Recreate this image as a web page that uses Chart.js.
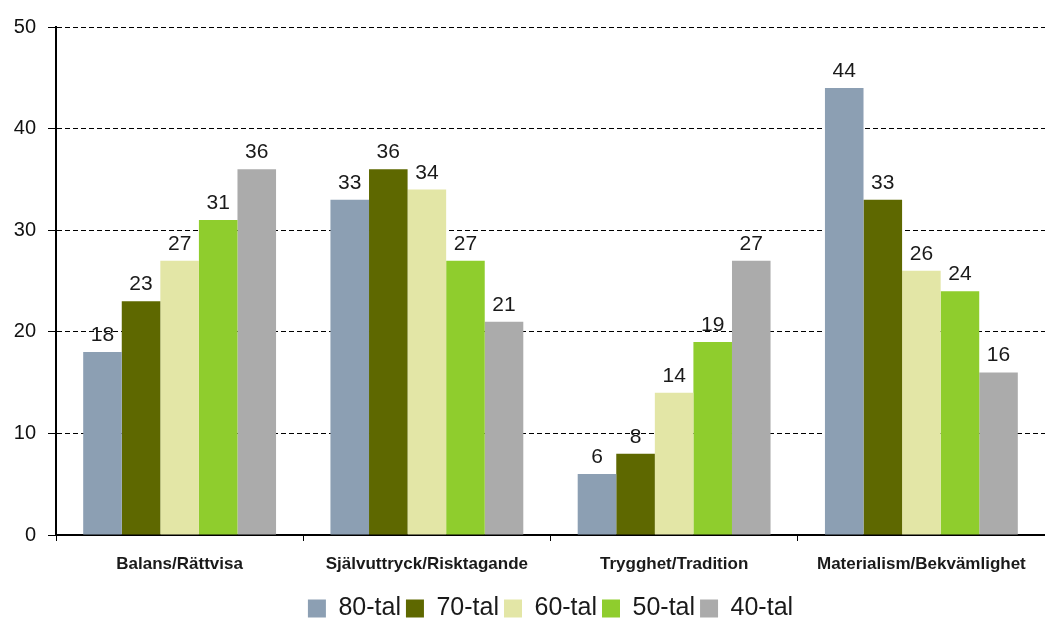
<!DOCTYPE html>
<html>
<head>
<meta charset="utf-8">
<script src="https://cdn.jsdelivr.net/npm/chart.js@4/dist/chart.umd.min.js"></script>
<style>
  html, body { margin: 0; padding: 0; background: #fff; }
  #wrap { width: 1045px; height: 622px; }
</style>
</head>
<body>
<div id="wrap"><canvas id="chart"></canvas></div>
<script>
const categories = ['Balans/Rättvisa', 'Självuttryck/Risktagande', 'Trygghet/Tradition', 'Materialism/Bekvämlighet'];
const seriesNames = ['80-tal', '70-tal', '60-tal', '50-tal', '40-tal'];
const tal80 = [18, 33, 6, 44];
const tal70 = [23, 36, 8, 33];
const tal60 = [27, 34, 14, 26];
const tal50 = [31, 27, 19, 24];
const tal40 = [36, 21, 27, 16];
const yTicks = [0, 10, 20, 30, 40, 50];

const colors = ['#8c9fb3', '#5e6800', '#e3e6a6', '#8fcd2d', '#ababab'];
const values = [tal80, tal70, tal60, tal50, tal40];
const FONT = '"Liberation Sans", Arial, sans-serif';

// etiquetas encima de cada barra
const valueLabels = {
    id: 'valueLabels',
    afterDatasetsDraw(chart) {
        const ctx = chart.ctx;
        ctx.save();
        ctx.font = '21px ' + FONT;
        ctx.fillStyle = '#1a1a1a';
        ctx.textAlign = 'center';
        ctx.textBaseline = 'alphabetic';
        chart.data.datasets.forEach((ds, i) => {
            chart.getDatasetMeta(i).data.forEach((bar, j) => {
                ctx.fillText(ds.data[j], bar.x, bar.y - 11);
            });
        });
        ctx.restore();
    }
};

new Chart(document.getElementById('chart'), {
    type: 'bar',
    data: {
        labels: categories,
        datasets: seriesNames.map((name, i) => ({
            label: name,
            data: values[i],
            backgroundColor: colors[i],
            borderWidth: 0,
            categoryPercentage: 0.78,
            barPercentage: 1.0
        }))
    },
    plugins: [valueLabels],
    options: {
        responsive: true,
        maintainAspectRatio: false,
        animation: false,
        layout: { padding: { top: 27, right: 0, left: 0, bottom: -9 } },
        plugins: {
            legend: {
                position: 'bottom',
                fullSize: false,
                labels: {
                    font: { size: 25, family: FONT },
                    color: '#1a1a1a',
                    boxWidth: 18,
                    boxHeight: 18,
                    padding: 5
                }
            },
            tooltip: { enabled: false }
        },
        scales: {
            x: {
                grid: {
                    drawOnChartArea: false,
                    drawTicks: true,
                    tickLength: 6,
                    color: '#000'
                },
                border: { color: '#000', width: 2 },
                ticks: {
                    color: '#1a1a1a',
                    font: { size: 17, weight: 'bold', family: FONT },
                    padding: 13,
                    maxRotation: 0
                },
                afterFit: s => { s.height = 56; }
            },
            y: {
                min: 0,
                max: 50,
                afterBuildTicks: s => { s.ticks = yTicks.map(v => ({ value: v })); },
                grid: {
                    color: ctx => ctx.tick && ctx.tick.value === 0 ? 'rgba(0,0,0,0)' : '#000',
                    lineWidth: 1,
                    tickBorderDash: [],
                    tickColor: '#000',
                    tickLength: 8
                },
                border: { color: '#000', width: 2, dash: [5, 3] },
                ticks: {
                    color: '#111',
                    font: { size: 20, family: FONT },
                    padding: 12
                },
                afterFit: s => { s.width = 56; }
            }
        }
    }
});
</script>
</body>
</html>
